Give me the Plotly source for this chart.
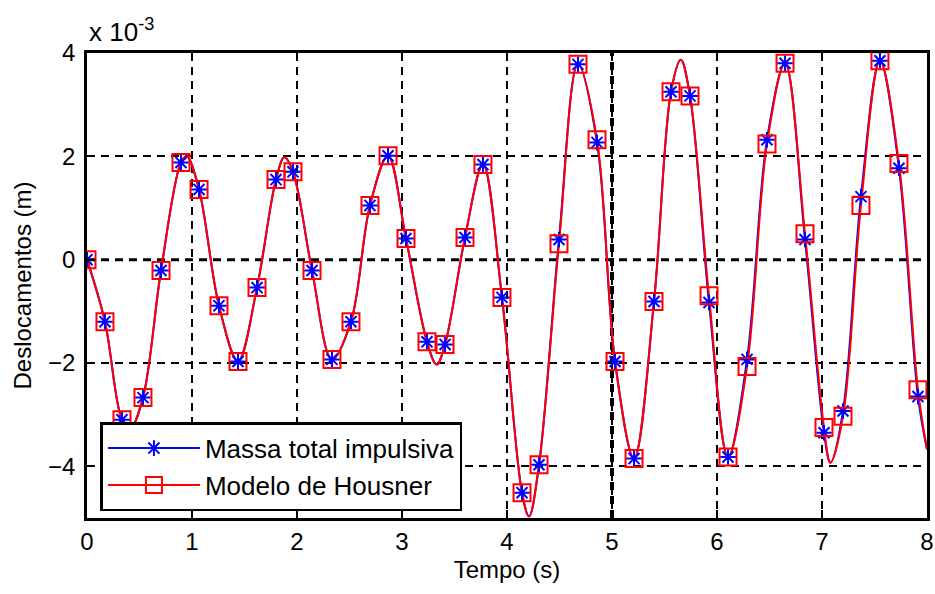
import plotly.graph_objects as go

# tempo dos marcadores (s) e deslocamentos lidos (x 1e-3 m)
t_marc = [0.00, 0.171, 0.333, 0.533, 0.705, 0.895, 1.067, 1.257, 1.438, 1.619,
          1.80, 1.962, 2.143, 2.333, 2.514, 2.695, 2.867, 3.038, 3.238, 3.41,
          3.60, 3.771, 3.952, 4.143, 4.305, 4.495, 4.676, 4.857, 5.029, 5.21,
          5.40, 5.562, 5.743, 5.924, 6.105, 6.286, 6.476, 6.648, 6.838, 7.019,
          7.20, 7.371, 7.552, 7.733, 7.914]
y_housner_marc = [0.00, -1.20, -3.10, -2.67, -0.21, 1.88, 1.36, -0.89, -1.97, -0.54,
                  1.55, 1.70, -0.21, -1.93, -1.20, 1.05, 2.01, 0.41, -1.59, -1.64,
                  0.43, 1.84, -0.73, -4.51, -3.97, 0.31, 3.78, 2.32, -1.97, -3.85,
                  -0.81, 3.25, 3.17, -0.70, -3.82, -2.07, 2.24, 3.80, 0.50, -3.25,
                  -3.03, 1.05, 3.85, 1.86, -2.52]
y_massa_marc = [0.00, -1.20, -3.10, -2.67, -0.21, 1.88, 1.36, -0.89, -1.97, -0.54,
                1.55, 1.70, -0.21, -1.93, -1.20, 1.05, 2.01, 0.41, -1.59, -1.64,
                0.43, 1.84, -0.73, -4.51, -3.97, 0.39, 3.78, 2.27, -1.97, -3.85,
                -0.81, 3.25, 3.17, -0.83, -3.82, -1.93, 2.32, 3.80, 0.39, -3.35,
                -2.93, 1.22, 3.85, 1.77, -2.65]

# picos e vales da curva entre marcadores (comuns as duas series)
t_pico = [0.41, 0.95, 1.88, 3.33, 4.21, 5.655, 7.08, 8.00]
y_pico = [-3.28, 2.00, 1.98, -2.03, -4.97, 3.87, -3.93, -3.67]

def curva(t_m, y_m):
    pts = sorted(list(zip(t_m, y_m)) + list(zip(t_pico, y_pico)))
    return [p[0] for p in pts], [p[1] for p in pts]

fonte = dict(family="Liberation Sans, Arial, sans-serif", size=24, color="black")

fig = go.Figure()

series = [
    ("Massa total impulsiva", y_massa_marc, "#0000ff",
     dict(symbol="asterisk-open", size=13, color="#0000ff", line=dict(color="#0000ff", width=2))),
    ("Modelo de Housner", y_housner_marc, "#ff0000",
     dict(symbol="square-open", size=17, color="#ff0000", line=dict(color="#ff0000", width=2))),
]

for nome, y_m, cor, mk in series:
    tx, ty = curva(t_marc, y_m)
    fig.add_trace(go.Scatter(x=tx, y=ty, mode="lines", line=dict(color=cor, width=2, shape="spline"),
                             showlegend=False, hoverinfo="skip"))
for nome, y_m, cor, mk in series:
    fig.add_trace(go.Scatter(x=t_marc, y=y_m, mode="markers", marker=mk, showlegend=False))
for nome, y_m, cor, mk in series:
    fig.add_trace(go.Scatter(x=[None], y=[None], mode="lines+markers", name=nome,
                             line=dict(color=cor, width=2), marker=mk, legendgroup=nome))

eixo = dict(showline=True, mirror=True, linecolor="black", linewidth=2.5,
            ticks="inside", ticklen=8, tickwidth=2, tickcolor="black",
            showgrid=True, gridcolor="black", gridwidth=2, griddash="8px,6px",
            zeroline=False, tickfont=fonte, automargin=False)

fig.update_layout(
    width=935, height=594,
    margin=dict(l=87, r=8, t=53, b=76),
    paper_bgcolor="white", plot_bgcolor="white",
    font=fonte,
    xaxis=dict(eixo, range=[0, 8], dtick=1, ticklabelstandoff=0,
               title=dict(text="Tempo (s)", font=fonte, standoff=8)),
    yaxis=dict(eixo, range=[-5, 4], tickvals=[-4, -2, 0, 2, 4], ticklabelstandoff=4,
               title=dict(text="Deslocamentos (m)", font=fonte, standoff=10)),
    legend=dict(x=0.016, y=0.206, xanchor="left", yanchor="top",
                bgcolor="white", bordercolor="black", borderwidth=2.5,
                font=dict(fonte, size=26), itemwidth=92, tracegroupgap=0),
    showlegend=True,
)

# linhas de grade mais grossas em x=5 e y=0
fig.add_vline(x=5, line=dict(color="black", width=4, dash="8px,6px"), layer="below")
fig.add_hline(y=0, line=dict(color="black", width=3, dash="8px,6px"), layer="below")

fig.add_annotation(xref="paper", yref="paper", x=0, y=1, xanchor="left", yanchor="bottom",
                   yshift=4, showarrow=False, text="x 10<sup>-3</sup>",
                   font=dict(fonte, size=26))

fig.write_html("out.html", config={"displayModeBar": False},
               post_script="document.body.style.margin='0';")
